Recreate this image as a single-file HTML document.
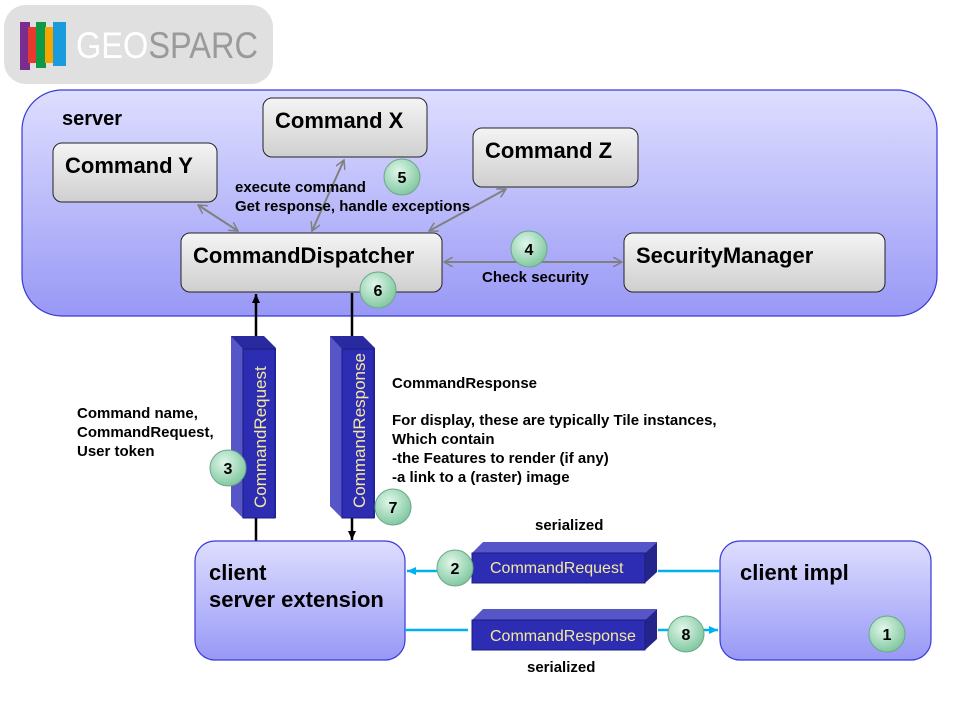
<!DOCTYPE html>
<html><head><meta charset="utf-8"><style>body{margin:0;background:#fff}svg{display:block}</style></head><body>
<svg width="960" height="720" viewBox="0 0 960 720" xmlns="http://www.w3.org/2000/svg" font-family="Liberation Sans, Arial, sans-serif">
<defs>
<linearGradient id="srv" x1="0" y1="0" x2="0" y2="1"><stop offset="0" stop-color="#dedeff"/><stop offset="1" stop-color="#9898f6"/></linearGradient>
<linearGradient id="box" x1="0" y1="0" x2="0" y2="1"><stop offset="0" stop-color="#f4f4f4"/><stop offset="1" stop-color="#cfcfcf"/></linearGradient>
<radialGradient id="bd" cx="0.4" cy="0.35" r="0.7"><stop offset="0" stop-color="#e0f7ea"/><stop offset="1" stop-color="#7cc59c"/></radialGradient>
<marker id="ga" markerWidth="10" markerHeight="10" refX="9" refY="5" orient="auto-start-reverse" markerUnits="userSpaceOnUse"><path d="M0,0 L9,5 L0,10" fill="none" stroke="#808080" stroke-width="1.5"/></marker>
<marker id="ba" markerWidth="10" markerHeight="10" refX="9" refY="5" orient="auto" markerUnits="userSpaceOnUse"><path d="M0,1 L9,5 L0,9 Z" fill="#000"/></marker>
<marker id="ca" markerWidth="10" markerHeight="10" refX="9" refY="5" orient="auto" markerUnits="userSpaceOnUse"><path d="M0,1 L9,5 L0,9 Z" fill="#00b0f0"/></marker>
</defs>
<rect x="4" y="5" width="269" height="79" rx="22" fill="#e0e0e0"/>
<rect x="20" y="22" width="10" height="48" fill="#7b2d8e"/>
<rect x="28" y="27" width="9" height="36" fill="#e8392e"/>
<rect x="36" y="22" width="10" height="46" fill="#0d9a48"/>
<rect x="45" y="27" width="8" height="36" fill="#f7a600"/>
<rect x="53" y="22" width="13" height="44" fill="#1a9cdc"/>
<text x="76" y="58" font-size="37" fill="#fff" textLength="182" lengthAdjust="spacingAndGlyphs">GEO<tspan fill="#9a9a9a">SPARC</tspan></text>

<rect x="22" y="90" width="915" height="226" rx="40" fill="url(#srv)" stroke="#3a3ad8" stroke-width="1.2"/>
<text x="62" y="125" font-size="20" font-weight="bold">server</text>

<g stroke="#222" stroke-width="1" fill="url(#box)">
<rect x="263" y="98" width="164" height="59" rx="9"/>
<rect x="53" y="143" width="164" height="59" rx="9"/>
<rect x="473" y="128" width="165" height="59" rx="9"/>
<rect x="181" y="233" width="261" height="59" rx="9"/>
<rect x="624" y="233" width="261" height="59" rx="9"/>
</g>
<g font-size="22" font-weight="bold">
<text x="275" y="128">Command X</text>
<text x="65" y="173">Command Y</text>
<text x="485" y="158">Command Z</text>
<text x="193" y="263">CommandDispatcher</text>
<text x="636" y="263">SecurityManager</text>
</g>
<g stroke="#808080" stroke-width="2" marker-start="url(#ga)" marker-end="url(#ga)">
<line x1="198" y1="205" x2="238" y2="231"/>
<line x1="344" y1="160" x2="312" y2="231"/>
<line x1="506" y1="189" x2="429" y2="231"/>
<line x1="444" y1="262" x2="622" y2="262"/>
</g>
<g font-size="15" font-weight="bold">
<text x="235" y="192">execute command</text>
<text x="235" y="211">Get response,  handle exceptions</text>
<text x="482" y="282">Check security</text>
<text x="77" y="418">Command name,</text>
<text x="77" y="437">CommandRequest,</text>
<text x="77" y="456">User token</text>
<text x="392" y="388">CommandResponse</text>
<text x="392" y="425">For display, these are typically Tile instances,</text>
<text x="392" y="444">Which contain</text>
<text x="392" y="463">-the Features to render (if any)</text>
<text x="392" y="482">-a link to a (raster) image</text>
<text x="535" y="530">serialized</text>
<text x="527" y="672">serialized</text>
</g>

<line x1="256" y1="541" x2="256" y2="294" stroke="#000" stroke-width="2.5" marker-end="url(#ba)"/>
<line x1="352" y1="293" x2="352" y2="540" stroke="#000" stroke-width="2.5" marker-end="url(#ba)"/>

<g>
<polygon points="231,336 264,336 276,348 276,518 243,518 231,506" fill="#2a2aa0"/>
<polygon points="231,336 243,349 243,518 231,506" fill="#5656c8"/>
<rect x="243" y="349" width="32" height="169" fill="#2d2db4" stroke="#1c1c80"/>
<text transform="translate(266,508) rotate(-90)" font-size="17" fill="#f4e8a0">CommandRequest</text>
<polygon points="330,336 363,336 375,348 375,518 342,518 330,506" fill="#2a2aa0"/>
<polygon points="330,336 342,349 342,518 330,506" fill="#5656c8"/>
<rect x="342" y="349" width="32" height="169" fill="#2d2db4" stroke="#1c1c80"/>
<text transform="translate(365,508) rotate(-90)" font-size="17" fill="#f4e8a0">CommandResponse</text>
</g>

<rect x="195" y="541" width="210" height="119" rx="20" fill="url(#srv)" stroke="#3a3ad8" stroke-width="1.2"/>
<text x="209" y="580" font-size="22" font-weight="bold">client</text>
<text x="209" y="607" font-size="22" font-weight="bold">server extension</text>
<rect x="720" y="541" width="211" height="119" rx="20" fill="url(#srv)" stroke="#3a3ad8" stroke-width="1.2"/>
<text x="740" y="580" font-size="22" font-weight="bold">client impl</text>

<line x1="720" y1="571" x2="407" y2="571" stroke="#00b0f0" stroke-width="2.5" marker-end="url(#ca)"/>
<line x1="405" y1="630" x2="718" y2="630" stroke="#00b0f0" stroke-width="2.5" marker-end="url(#ca)"/>

<g>
<rect x="468" y="539" width="190" height="50" fill="#fff"/>
<polygon points="472,553 483,542 657,542 645,553" fill="#5656c8"/>
<polygon points="645,553 657,542 657,572 645,583" fill="#24248a"/>
<rect x="472" y="553" width="173" height="30" fill="#2d2db4" stroke="#1c1c80"/>
<text x="490" y="573" font-size="16" fill="#f4e8a0">CommandRequest</text>
<rect x="468" y="606" width="190" height="50" fill="#fff"/>
<polygon points="472,620 483,609 657,609 645,620" fill="#5656c8"/>
<polygon points="645,620 657,609 657,639 645,650" fill="#24248a"/>
<rect x="472" y="620" width="173" height="30" fill="#2d2db4" stroke="#1c1c80"/>
<text x="490" y="641" font-size="16" fill="#f4e8a0">CommandResponse</text>
</g>

<g stroke="#6aa888" stroke-width="1">
<circle cx="402" cy="177" r="18" fill="url(#bd)"/>
<circle cx="378" cy="290" r="18" fill="url(#bd)"/>
<circle cx="529" cy="249" r="18" fill="url(#bd)"/>
<circle cx="228" cy="468" r="18" fill="url(#bd)"/>
<circle cx="393" cy="507" r="18" fill="url(#bd)"/>
<circle cx="455" cy="568" r="18" fill="url(#bd)"/>
<circle cx="686" cy="634" r="18" fill="url(#bd)"/>
<circle cx="887" cy="634" r="18" fill="url(#bd)"/>
</g>
<g font-size="16" font-weight="bold" text-anchor="middle" fill="#000">
<text x="402" y="183">5</text>
<text x="378" y="296">6</text>
<text x="529" y="255">4</text>
<text x="228" y="474">3</text>
<text x="393" y="513">7</text>
<text x="455" y="574">2</text>
<text x="686" y="640">8</text>
<text x="887" y="640">1</text>
</g>
</svg>
</body></html>
